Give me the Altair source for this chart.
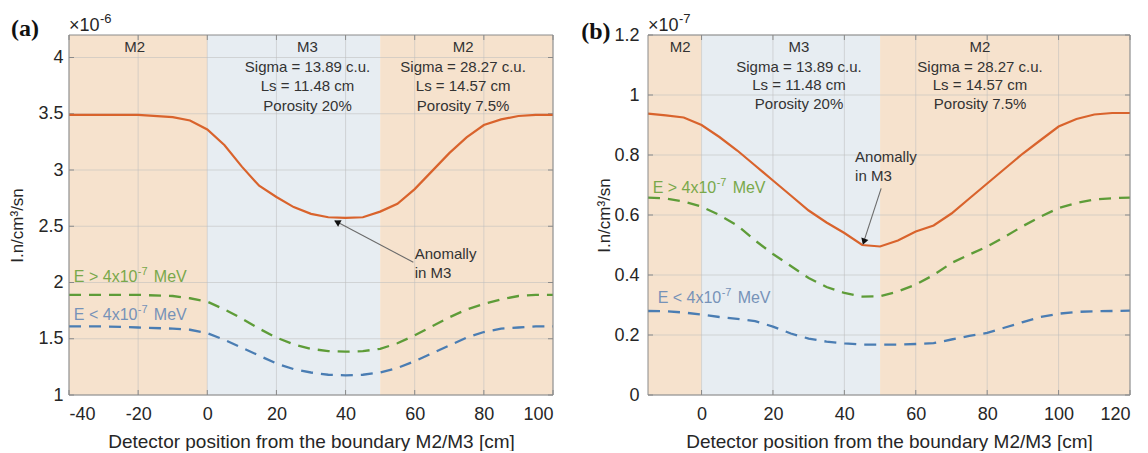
import altair as alt
import pandas as pd

# ---------------- data: panel (a), values in units of 1e-6 ----------------
xa = [-40, -30, -20, -10, -5, 0, 5, 10, 15, 20, 25, 30, 35, 40, 45, 50, 55, 60, 65, 70, 75, 80, 85, 90, 95, 100]
a_total = [3.49, 3.49, 3.49, 3.47, 3.44, 3.36, 3.22, 3.03, 2.86, 2.76, 2.67, 2.61, 2.58, 2.575, 2.58, 2.63,
           2.70, 2.83, 2.99, 3.15, 3.29, 3.40, 3.45, 3.48, 3.49, 3.49]
a_fast = [1.89, 1.89, 1.89, 1.88, 1.86, 1.83, 1.76, 1.68, 1.59, 1.51, 1.45, 1.41, 1.39, 1.385, 1.39, 1.41,
          1.46, 1.53, 1.61, 1.69, 1.76, 1.81, 1.85, 1.88, 1.89, 1.89]
a_slow = [1.61, 1.61, 1.60, 1.59, 1.58, 1.55, 1.49, 1.42, 1.35, 1.28, 1.23, 1.20, 1.18, 1.175, 1.18, 1.20,
          1.24, 1.30, 1.37, 1.44, 1.51, 1.56, 1.59, 1.60, 1.61, 1.61]
a_xticks = [-40, -20, 0, 20, 40, 60, 80, 100]
a_yticks = [1, 1.5, 2, 2.5, 3, 3.5, 4]

# ---------------- data: panel (b), values in units of 1e-7 ----------------
xb = [-15, -10, -5, 0, 5, 10, 15, 20, 25, 30, 35, 40, 45, 50, 55, 60, 65, 70, 75, 80, 85, 90, 95, 100,
      105, 110, 115, 120]
b_total = [0.938, 0.932, 0.925, 0.900, 0.860, 0.815, 0.765, 0.715, 0.665, 0.615, 0.575, 0.540, 0.500, 0.495,
           0.515, 0.545, 0.565, 0.605, 0.655, 0.705, 0.755, 0.805, 0.850, 0.895, 0.920, 0.935, 0.940, 0.940]
b_fast = [0.658, 0.655, 0.645, 0.628, 0.600, 0.565, 0.515, 0.470, 0.430, 0.390, 0.360, 0.340, 0.328, 0.329,
          0.345, 0.368, 0.400, 0.440, 0.468, 0.495, 0.528, 0.563, 0.595, 0.623, 0.640, 0.652, 0.656, 0.658]
b_slow = [0.280, 0.279, 0.275, 0.268, 0.260, 0.254, 0.246, 0.228, 0.205, 0.188, 0.178, 0.172, 0.168, 0.168,
          0.168, 0.170, 0.173, 0.185, 0.197, 0.207, 0.225, 0.243, 0.260, 0.271, 0.277, 0.279, 0.280, 0.281]
b_xticks = [0, 20, 40, 60, 80, 100, 120]
b_yticks = [0, 0.2, 0.4, 0.6, 0.8, 1, 1.2]

# ---------------- zones and texts ----------------
zone_kind = ["M2", "M3", "M2"]
zones_a_start = [-40, 0, 50]
zones_a_end = [0, 50, 100]
zones_b_start = [-15, 0, 50]
zones_b_end = [0, 50, 120]

m3_text = ["M3", "Sigma = 13.89 c.u.", "Ls = 11.48 cm", "Porosity 20%"]
m2_text = ["M2", "Sigma = 28.27 c.u.", "Ls = 14.57 cm", "Porosity 7.5%"]
fast_parts = ["E > 4x10", "-7", "MeV"]
slow_parts = ["E < 4x10", "-7", "MeV"]
anomaly_text = ["Anomally", "in M3"]
y_title = "I.n/cm\u00b3/sn"
x_title = "Detector position from the boundary M2/M3 [cm]"

# ---------------- styles ----------------
W_A, W_B, H = 484, 482, 360
C_M2, C_M3 = "#f6e2cd", "#e7edf2"
C_TOT, C_FAST, C_SLOW = "#d9632c", "#5e9c38", "#4a7db3"
C_FAST_T, C_SLOW_T = "#79a84a", "#7692b8"
C_FRAME = "#8a8a8a"
FONT = "Liberation Sans"


def text_layer(rows, xs, ys, color, align, size=15, font=FONT, weight="normal", dx=0, dy=0):
    return alt.Chart(pd.DataFrame(rows)).mark_text(
        font=font, fontSize=size, fontWeight=weight, color=color, align=align, baseline="alphabetic",
        dx=dx, dy=dy
    ).encode(x=alt.X("x:Q", scale=xs), y=alt.Y("y:Q", scale=ys), text="t:N")


def sup_label(pos, parts, xs, ys, color):
    row = lambda t: [{"x": pos[0], "y": pos[1], "t": t}]
    return [
        text_layer(row(parts[0]), xs, ys, color, "left", size=16),
        text_layer(row(parts[1]), xs, ys, color, "left", size=11, dx=64, dy=-7),
        text_layer(row(parts[2]), xs, ys, color, "left", size=16, dx=80),
    ]


def panel(x, tot, fast, slow, z0, z1, xdom, ydom, yvals, xvals, W, zone_rows,
          lab_fast, lab_slow, anom_rows, arrow, head, head_angle, exp_pos, exp_parts, tag_row,
          ytitle_x, ytitle_y, ylab_pad):
    xs = alt.Scale(domain=xdom, nice=False, zero=False)
    ys = alt.Scale(domain=ydom, nice=False, zero=False)
    x_axis = alt.Axis(values=xvals, title=x_title, labelExpr="toString(datum.value)",
                      titleY=52, titleBaseline="alphabetic", labelPadding=10, titleFontSize=19)
    y_axis = alt.Axis(values=yvals, title=y_title, format="~g", titleFontSize=17,
                      labelPadding=ylab_pad, titleX=ytitle_x, titleY=ytitle_y, titleBaseline="middle")

    zones = pd.DataFrame({"s": z0, "e": z1, "k": zone_kind})
    bg = alt.Chart(zones).mark_rect().encode(
        x=alt.X("s:Q", scale=xs, axis=x_axis),
        x2="e:Q",
        y=alt.value(0), y2=alt.value(H),
        color=alt.Color("k:N", scale=alt.Scale(domain=["M2", "M3"], range=[C_M2, C_M3]), legend=None),
    )

    xt = alt.Chart(pd.DataFrame({"v": xvals}))
    yt = alt.Chart(pd.DataFrame({"v": yvals}))
    gx = xt.mark_rule(color="#bdbdbd", opacity=0.55, strokeWidth=1).encode(x=alt.X("v:Q", scale=xs))
    gy = yt.mark_rule(color="#bdbdbd", opacity=0.55, strokeWidth=1).encode(y=alt.Y("v:Q", scale=ys))
    tk = [
        xt.mark_rule(color=C_FRAME).encode(x=alt.X("v:Q", scale=xs), y=alt.value(H - 5), y2=alt.value(H)),
        xt.mark_rule(color=C_FRAME).encode(x=alt.X("v:Q", scale=xs), y=alt.value(0), y2=alt.value(5)),
        yt.mark_rule(color=C_FRAME).encode(y=alt.Y("v:Q", scale=ys), x=alt.value(0), x2=alt.value(5)),
        yt.mark_rule(color=C_FRAME).encode(y=alt.Y("v:Q", scale=ys), x=alt.value(W - 5), x2=alt.value(W)),
    ]

    df = pd.DataFrame({"x": x, "t": tot, "f": fast, "s": slow})
    base = alt.Chart(df)
    l_tot = base.mark_line(color=C_TOT, strokeWidth=2.2).encode(
        x=alt.X("x:Q", scale=xs, axis=x_axis), y=alt.Y("t:Q", scale=ys, axis=y_axis))
    l_fast = base.mark_line(color=C_FAST, strokeWidth=2.3, strokeDash=[12, 8]).encode(
        x=alt.X("x:Q", scale=xs, axis=x_axis), y=alt.Y("f:Q", scale=ys, axis=y_axis))
    l_slow = base.mark_line(color=C_SLOW, strokeWidth=2.3, strokeDash=[12, 8]).encode(
        x=alt.X("x:Q", scale=xs, axis=x_axis), y=alt.Y("s:Q", scale=ys, axis=y_axis))

    ann = text_layer(zone_rows, xs, ys, "#333333", "center")
    an = text_layer(anom_rows, xs, ys, "#333333", "left")

    ar = alt.Chart(pd.DataFrame([{"x": arrow[0], "y": arrow[1], "x2": arrow[2], "y2": arrow[3]}])).mark_rule(
        color="#6b6b6b", strokeWidth=1.1
    ).encode(x=alt.X("x:Q", scale=xs), y=alt.Y("y:Q", scale=ys), x2="x2:Q", y2="y2:Q")
    hd = alt.Chart(pd.DataFrame([{"x": head[0], "y": head[1]}])).mark_point(
        shape="triangle", filled=True, color="#111111", size=55, angle=head_angle, opacity=1
    ).encode(x=alt.X("x:Q", scale=xs), y=alt.Y("y:Q", scale=ys))

    ex1 = text_layer([{"x": exp_pos[0], "y": exp_pos[1], "t": exp_parts[0]}], xs, ys, "#262626", "left", size=18)
    ex2 = text_layer([{"x": exp_pos[0], "y": exp_pos[1], "t": exp_parts[1]}], xs, ys, "#262626", "left",
                     size=13, dx=31, dy=-8)
    tg = text_layer([tag_row], xs, ys, "#111111", "left", size=24, font="Liberation Serif", weight="bold")

    frame = alt.Chart(pd.DataFrame({"k": [0]})).mark_rect(
        filled=False, stroke=C_FRAME, strokeWidth=1
    ).encode(x=alt.value(0), x2=alt.value(W), y=alt.value(0), y2=alt.value(H))

    layers = [bg, gx, gy] + tk + [l_tot, l_fast, l_slow, ann, an, ar, hd, ex1, ex2, tg, frame]
    layers += sup_label(lab_fast, fast_parts, xs, ys, C_FAST_T)
    layers += sup_label(lab_slow, slow_parts, xs, ys, C_SLOW_T)
    return alt.layer(*layers).properties(width=W, height=H)


def zone_block(cx, ys_, lines):
    return [{"x": cx, "y": yy, "t": tt} for yy, tt in zip(ys_, lines)]


ya4 = [4.05, 3.875, 3.70, 3.525]
rows_a = zone_block(-21, ya4[:1], m2_text[:1]) + zone_block(29, ya4, m3_text) + zone_block(74, ya4, m2_text)

pa = panel(
    xa, a_total, a_fast, a_slow, zones_a_start, zones_a_end,
    [-40, 100], [1, 4.2], a_yticks, a_xticks, W_A,
    rows_a, (-38.6, 2.005), (-38.6, 1.668),
    [{"x": 60, "y": 2.21, "t": anomaly_text[0]}, {"x": 60, "y": 2.04, "t": anomaly_text[1]}],
    (59.6, 2.18, 36.9, 2.548), (37.8, 2.533), 298,
    (-40, 4.24), ["\u00d710", "-6"], {"x": -56.8, "y": 4.19, "t": "(a)"},
    -51.5, 190, 6,
)

yb4 = [1.145, 1.078, 1.017, 0.955]
rows_b = zone_block(-6, yb4[:1], m2_text[:1]) + zone_block(27.3, yb4, m3_text) + zone_block(78, yb4, m2_text)

pb = panel(
    xb, b_total, b_fast, b_slow, zones_b_start, zones_b_end,
    [-15, 120], [0, 1.2], b_yticks, b_xticks, W_B,
    rows_b, (-13.7, 0.673), (-12.3, 0.306),
    [{"x": 43, "y": 0.778, "t": anomaly_text[0]}, {"x": 43, "y": 0.712, "t": anomaly_text[1]}],
    (50.3, 0.689, 45.3, 0.506), (45.55, 0.514), 198,
    (-15, 1.215), ["\u00d710", "-7"], {"x": -33.7, "y": 1.188, "t": "(b)"},
    -44, 180, 9,
)

chart = alt.hconcat(pa, pb, spacing=95, bounds="flush").properties(
    padding={"left": 0, "top": 4, "right": 5, "bottom": 0}
).configure_view(stroke=None).configure_axis(
    labelFont=FONT, labelFontSize=18, labelColor="#262626",
    titleFont=FONT, titleColor="#262626", titleFontWeight="normal",
    domain=False, ticks=False, grid=False,
)

chart.save("out.html", embed_options={"renderer": "svg", "actions": False})
